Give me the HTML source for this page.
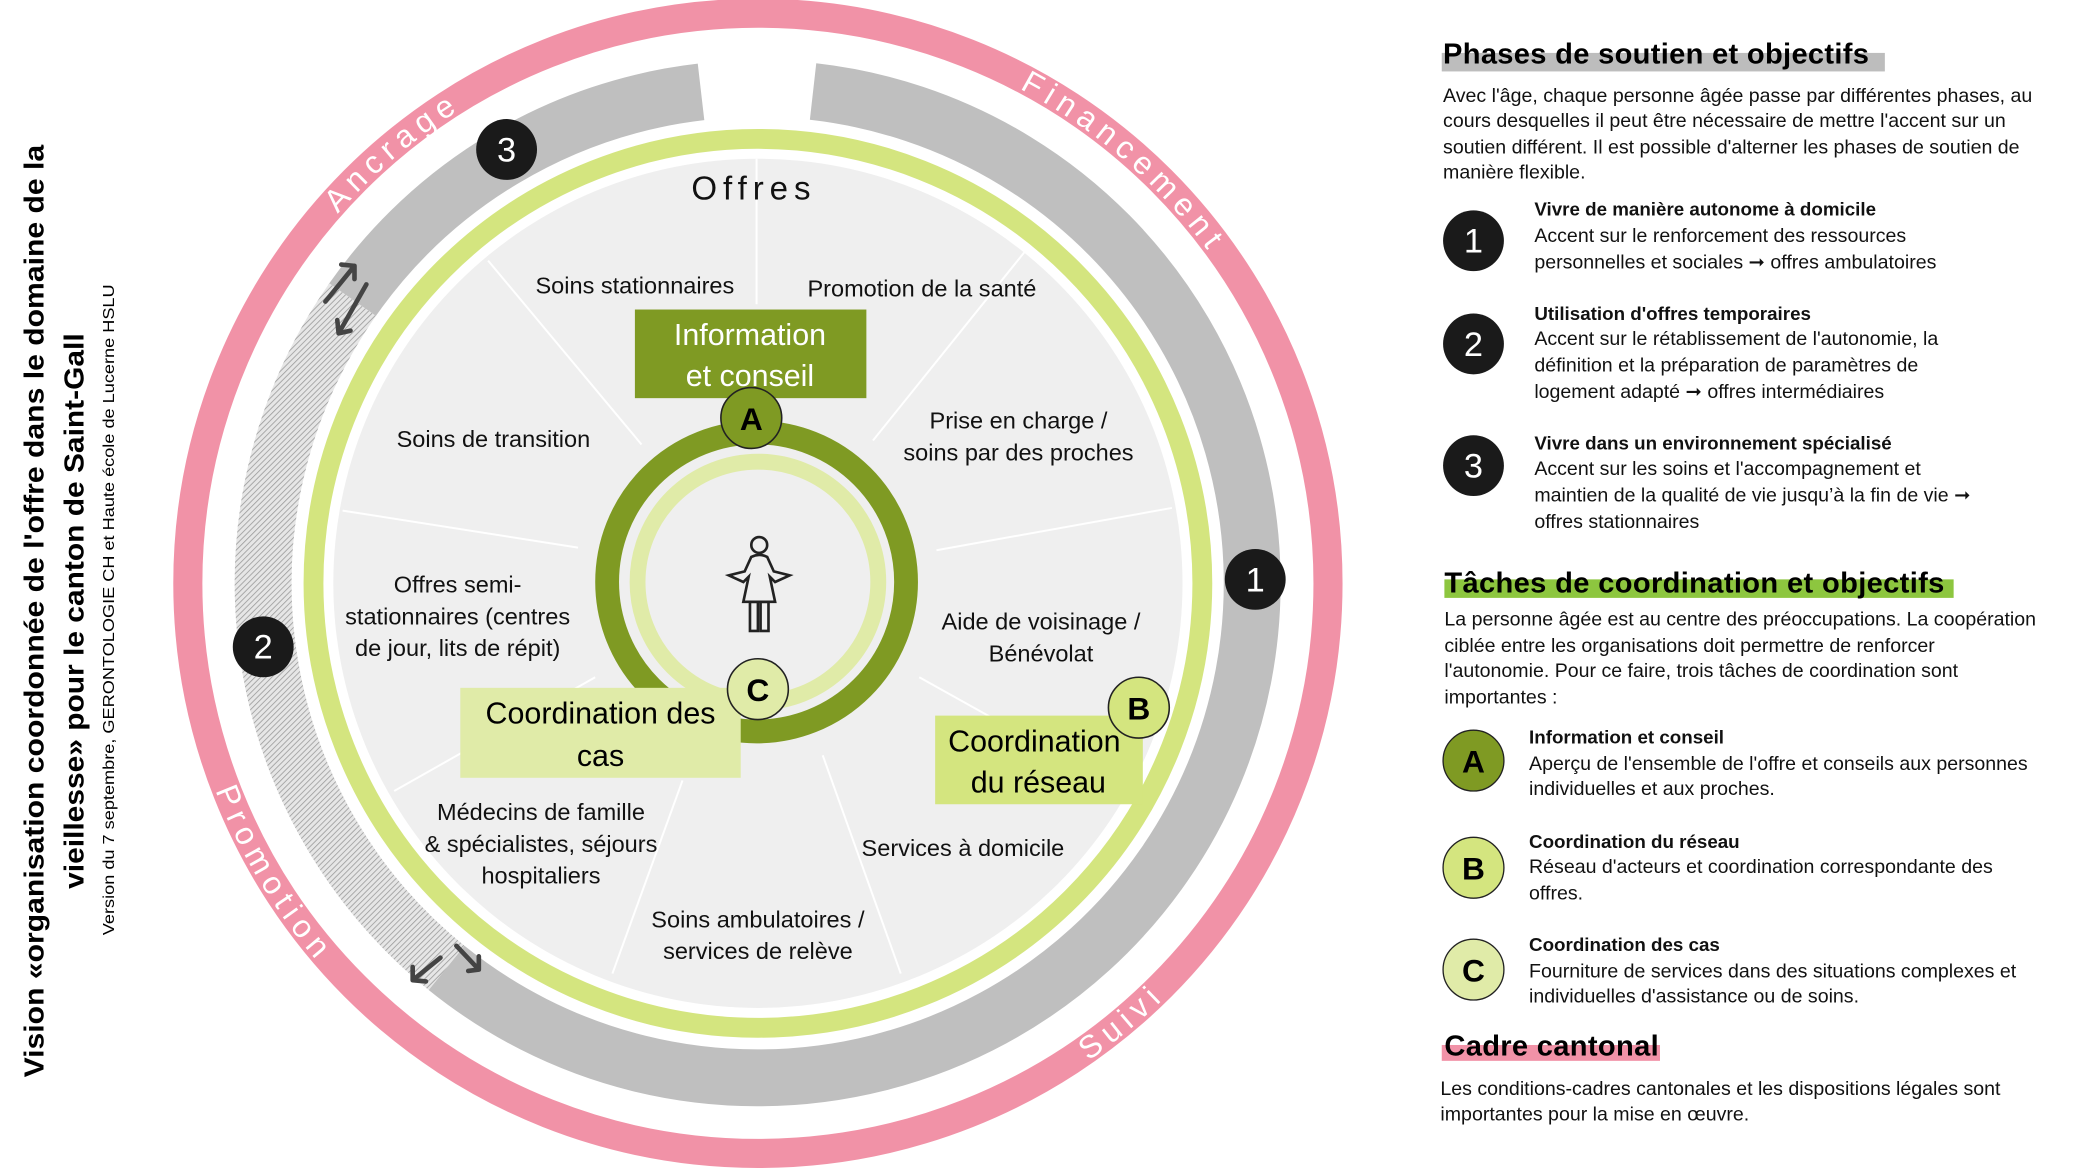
<!DOCTYPE html>
<html><head><meta charset="utf-8"><style>
html,body{margin:0;padding:0;background:#fff;}
svg{display:block;}
text{font-family:"Liberation Sans",sans-serif;}
</style></head><body>
<svg width="2074" height="1168" viewBox="0 0 1568 883" preserveAspectRatio="none" xmlns="http://www.w3.org/2000/svg">
<defs>
<pattern id="hatch" width="3" height="3" patternUnits="userSpaceOnUse" patternTransform="rotate(45)">
<rect width="3" height="3" fill="#e6e6e6"/><line x1="0" y1="0" x2="0" y2="3" stroke="#9a9a9a" stroke-width="1.2"/>
</pattern>
<path id="cw" d="M150,441 A423,423 0 1,1 996,441 A423,423 0 1,1 150,441"/>
<path id="ccw" d="M134,441 A439,439 0 1,0 1012,441 A439,439 0 1,0 134,441"/>
</defs>
<circle cx="573" cy="441" r="431" fill="none" stroke="#f192a7" stroke-width="22"/>
<g fill="none" stroke-width="43">
<path d="M614.7,69.2 A374,374 0 1,1 337.6,731.7" stroke="#bfbfbf"/>
<path d="M337.6,731.7 A374,374 0 0,1 266.6,226.5" stroke="url(#hatch)"/>
<path d="M266.6,226.5 A374,374 0 0,1 530.0,69.5" stroke="#bfbfbf"/>
</g>
<circle cx="573" cy="441" r="336" fill="none" stroke="#d4e57f" stroke-width="15"/>
<circle cx="573" cy="441" r="321" fill="#efefef"/>
<g stroke="#fff" stroke-width="1.5">
<line x1="572" y1="230" x2="572" y2="120"/>
<line x1="485" y1="336" x2="369" y2="197"/>
<line x1="660" y1="333" x2="775" y2="190"/>
<line x1="708" y1="416" x2="886" y2="384"/>
<line x1="437" y1="414" x2="259" y2="386"/>
<line x1="450" y1="512" x2="298" y2="598"/>
<line x1="516" y1="590" x2="463" y2="736"/>
<line x1="622" y1="571" x2="681" y2="736"/>
<line x1="695" y1="512" x2="790" y2="565"/>
</g>
<circle cx="572" cy="440" r="113" fill="none" stroke="#7f9a23" stroke-width="18"/>
<circle cx="573" cy="440" r="91" fill="none" stroke="#e0eba8" stroke-width="12"/>
<g fill="none" stroke="#222" stroke-width="2">
<circle cx="574" cy="412" r="6"/>
<path d="M568,421 Q574,418 580,421 L585,432 L597,435 L586,440 L582,436 L586,455 L562,455 L566,436 L562,440 L551,435 L563,432 Z"/>
<rect x="567" y="455" width="6" height="22"/><rect x="575" y="455" width="6" height="22"/>
</g>
<rect x="480" y="234" width="175" height="67" fill="#7f9a23"/>
<text x="567" y="261" font-size="23" fill="#fff" text-anchor="middle">Information</text>
<text x="567" y="292" font-size="23" fill="#fff" text-anchor="middle">et conseil</text>
<rect x="348" y="520" width="212" height="68" fill="#e0eba8"/>
<text x="454" y="547" font-size="23" text-anchor="middle">Coordination des</text>
<text x="454" y="579" font-size="23" text-anchor="middle">cas</text>
<rect x="707" y="541" width="157" height="67" fill="#d4e57f"/>
<text x="782" y="568" font-size="23" text-anchor="middle">Coordination</text>
<text x="785" y="599" font-size="23" text-anchor="middle">du réseau</text>
<g stroke="#222" stroke-width="1.2">
<circle cx="568" cy="316" r="23" fill="#7f9a23"/>
<circle cx="573" cy="521" r="23" fill="#e0eba8"/>
<circle cx="861" cy="535" r="23" fill="#d4e57f"/>
</g>
<g font-size="24" font-weight="bold" text-anchor="middle">
<text x="568" y="325">A</text><text x="573" y="530">C</text><text x="861" y="544">B</text>
</g>
<g fill="#1a1a1a"><circle cx="383" cy="113" r="23"/><circle cx="949" cy="438" r="23"/><circle cx="199" cy="489" r="23"/></g>
<g font-size="26" fill="#fff" text-anchor="middle">
<text x="383" y="122">3</text><text x="949" y="447">1</text><text x="199" y="498">2</text>
</g>
<g font-size="17.8" text-anchor="middle" fill="#111">
<text x="570" y="151" font-size="25" letter-spacing="4.5">Offres</text>
<text x="480" y="222">Soins stationnaires</text>
<text x="697" y="224">Promotion de la santé</text>
<text x="373" y="338">Soins de transition</text>
<text x="770" y="324">Prise en charge /</text>
<text x="770" y="348">soins par des proches</text>
<text x="346" y="448">Offres semi-</text>
<text x="346" y="472">stationnaires (centres</text>
<text x="346" y="496">de jour, lits de répit)</text>
<text x="787" y="476">Aide de voisinage /</text>
<text x="787" y="500">Bénévolat</text>
<text x="409" y="620">Médecins de famille</text>
<text x="409" y="644">&amp; spécialistes, séjours</text>
<text x="409" y="668">hospitaliers</text>
<text x="728" y="647">Services à domicile</text>
<text x="573" y="701">Soins ambulatoires /</text>
<text x="573" y="725">services de relève</text>
</g>
<g font-size="24" fill="#fff" letter-spacing="5">
<text><textPath href="#cw" startOffset="305">Ancrage</textPath></text>
<text><textPath href="#cw" startOffset="870">Financement</textPath></text>
<text><textPath href="#ccw" startOffset="160">Promotion</textPath></text>
<text><textPath href="#ccw" startOffset="955">Suivi</textPath></text>
</g>
<g stroke="#444" stroke-width="3.5" fill="none" stroke-linecap="round" stroke-linejoin="round">
<path d="M246,228 L268,201 M258,200 L268,201 L268,211"/>
<path d="M277,215 L256,252 M255,242 L256,252 L265,250"/>
<path d="M333,724 L312,741 M312,731 L312,741 L322,742"/>
<path d="M345,715 L362,733 M354,734 L362,733 L362,723"/>
</g>
<g transform="translate(33,462) rotate(-90)"><text x="0" y="0" font-size="21" font-weight="bold" text-anchor="middle" textLength="705" lengthAdjust="spacingAndGlyphs">Vision «organisation coordonnée de l'offre dans le domaine de la</text></g>
<g transform="translate(63,462) rotate(-90)"><text x="0" y="0" font-size="21" font-weight="bold" text-anchor="middle" textLength="420" lengthAdjust="spacingAndGlyphs">vieillesse» pour le canton de Saint-Gall</text></g>
<g transform="translate(86,461) rotate(-90)"><text x="0" y="0" font-size="12" text-anchor="middle" textLength="492" lengthAdjust="spacingAndGlyphs">Version du 7 septembre, GERONTOLOGIE CH et Haute école de Lucerne HSLU</text></g>
<rect x="1090" y="40" width="335" height="14" fill="#bdbdbd"/>
<text x="1091" y="48" font-size="22" font-weight="bold" textLength="322">Phases de soutien et objectifs</text>
<g font-size="14.8" fill="#111">
<text x="1091" y="77">Avec l'âge, chaque personne âgée passe par différentes phases, au</text>
<text x="1091" y="96">cours desquelles il peut être nécessaire de mettre l'accent sur un</text>
<text x="1091" y="116">soutien différent. Il est possible d'alterner les phases de soutien de</text>
<text x="1091" y="135">manière flexible.</text>
<text x="1160" y="163" font-weight="bold" font-size="14.2">Vivre de manière autonome à domicile</text>
<text x="1160" y="183">Accent sur le renforcement des ressources</text>
<text x="1160" y="203">personnelles et sociales ➞ offres ambulatoires</text>
<text x="1160" y="242" font-weight="bold" font-size="14.2">Utilisation d'offres temporaires</text>
<text x="1160" y="261">Accent sur le rétablissement de l'autonomie, la</text>
<text x="1160" y="281">définition et la préparation de paramètres de</text>
<text x="1160" y="301">logement adapté ➞ offres intermédiaires</text>
<text x="1160" y="340" font-weight="bold" font-size="14.2">Vivre dans un environnement spécialisé</text>
<text x="1160" y="359">Accent sur les soins et l'accompagnement et</text>
<text x="1160" y="379">maintien de la qualité de vie jusqu’à la fin de vie ➞</text>
<text x="1160" y="399">offres stationnaires</text>
</g>
<g fill="#1a1a1a"><circle cx="1114" cy="182" r="23"/><circle cx="1114" cy="260" r="23"/><circle cx="1114" cy="352" r="23"/></g>
<g font-size="26" fill="#fff" text-anchor="middle"><text x="1114" y="191">1</text><text x="1114" y="269">2</text><text x="1114" y="361">3</text></g>
<rect x="1092" y="438" width="385" height="14" fill="#8dc63f"/>
<text x="1092" y="448" font-size="22" font-weight="bold" textLength="378">Tâches de coordination et objectifs</text>
<g font-size="14.8" fill="#111">
<text x="1092" y="473">La personne âgée est au centre des préoccupations. La coopération</text>
<text x="1092" y="493">ciblée entre les organisations doit permettre de renforcer</text>
<text x="1092" y="512">l'autonomie. Pour ce faire, trois tâches de coordination sont</text>
<text x="1092" y="532">importantes :</text>
<text x="1156" y="562" font-weight="bold" font-size="14.2">Information et conseil</text>
<text x="1156" y="582">Aperçu de l'ensemble de l'offre et conseils aux personnes</text>
<text x="1156" y="601">individuelles et aux proches.</text>
<text x="1156" y="641" font-weight="bold" font-size="14.2">Coordination du réseau</text>
<text x="1156" y="660">Réseau d'acteurs et coordination correspondante des</text>
<text x="1156" y="680">offres.</text>
<text x="1156" y="719" font-weight="bold" font-size="14.2">Coordination des cas</text>
<text x="1156" y="739">Fourniture de services dans des situations complexes et</text>
<text x="1156" y="758">individuelles d'assistance ou de soins.</text>
</g>
<g stroke="#222" stroke-width="1"><circle cx="1114" cy="575" r="23" fill="#7f9a23"/><circle cx="1114" cy="656" r="23" fill="#d4e57f"/><circle cx="1114" cy="733" r="23" fill="#e0eba8"/></g>
<g font-size="24" font-weight="bold" text-anchor="middle"><text x="1114" y="584">A</text><text x="1114" y="665">B</text><text x="1114" y="742">C</text></g>
<rect x="1090" y="790" width="165" height="12" fill="#f192a7"/>
<text x="1092" y="798" font-size="22" font-weight="bold" textLength="162">Cadre cantonal</text>
<g font-size="14.8" fill="#111">
<text x="1089" y="828">Les conditions-cadres cantonales et les dispositions légales sont</text>
<text x="1089" y="847">importantes pour la mise en œuvre.</text>
</g>
</svg>
</body></html>
